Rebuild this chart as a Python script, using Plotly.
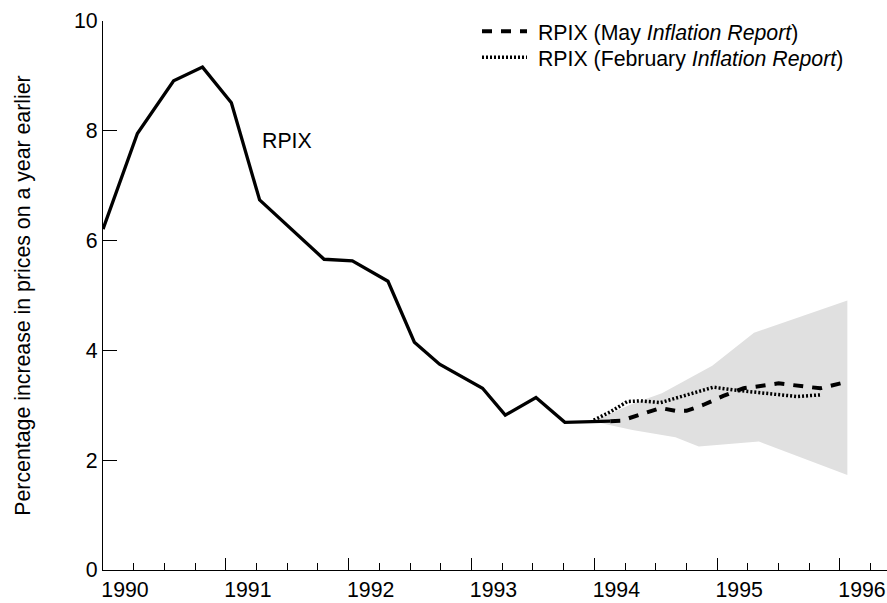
import plotly.graph_objects as go

# ---- data ----
rpix_x = [1990.00, 1990.28, 1990.575, 1990.81, 1991.045, 1991.275, 1991.80, 1992.03,
          1992.32, 1992.535, 1992.74, 1993.09, 1993.275, 1993.525, 1993.76, 1994.13]
rpix_y = [6.21, 7.95, 8.91, 9.16, 8.51, 6.74, 5.66, 5.63,
          5.26, 4.15, 3.75, 3.31, 2.82, 3.14, 2.69, 2.71]

may_x = [1994.13, 1994.22, 1994.54, 1994.66, 1994.75, 1994.89, 1995.05, 1995.215,
         1995.38, 1995.50, 1995.72, 1995.84, 1996.06]
may_y = [2.71, 2.72, 2.95, 2.90, 2.90, 3.01, 3.17, 3.31,
         3.36, 3.40, 3.34, 3.31, 3.43]

feb_x = [1993.995, 1994.13, 1994.27, 1994.375, 1994.54, 1994.755, 1994.97, 1995.13,
         1995.35, 1995.65, 1995.84]
feb_y = [2.73, 2.88, 3.07, 3.08, 3.05, 3.19, 3.33, 3.28,
         3.23, 3.16, 3.19]

fan_upper_x = [1994.0, 1994.30, 1994.55, 1994.96, 1995.30, 1996.06]
fan_upper_y = [2.72, 3.02, 3.22, 3.72, 4.32, 4.91]
fan_lower_x = [1994.0, 1994.31, 1994.66, 1994.85, 1995.34, 1996.06]
fan_lower_y = [2.70, 2.55, 2.42, 2.25, 2.34, 1.73]

year_ticks = [1990, 1991, 1992, 1993, 1994, 1995, 1996]
year_labels = ["1990", "1991", "1992", "1993", "1994", "1995", "1996"]
y_ticks = [0, 2, 4, 6, 8, 10]

FONT = "Liberation Sans, Arial, sans-serif"
FS = 21.3

fig = go.Figure()

# projection fan
fig.add_trace(go.Scatter(
    x=fan_upper_x + fan_lower_x[::-1],
    y=fan_upper_y + fan_lower_y[::-1],
    fill="toself", fillcolor="#e0e0e0", mode="lines",
    line=dict(width=0, color="#e0e0e0"),
    showlegend=False, hoverinfo="skip"))

fig.add_trace(go.Scatter(
    x=rpix_x, y=rpix_y, mode="lines", name="RPIX",
    line=dict(color="black", width=3.3), showlegend=False))

fig.add_trace(go.Scatter(
    x=may_x, y=may_y, mode="lines", name="&nbsp;RPIX (May <i>Inflation Report</i>)",
    line=dict(color="black", width=4, dash="10px,9px"), legend="legend"))

fig.add_trace(go.Scatter(
    x=feb_x, y=feb_y, mode="lines", name="&nbsp;RPIX (February <i>Inflation Report</i>)",
    line=dict(color="black", width=3.5, dash="2px,2px"), legend="legend2"))

fig.add_annotation(x=1991.496, y=7.82, text="RPIX", showarrow=False,
                   font=dict(family=FONT, size=FS, color="black"),
                   xanchor="center", yanchor="middle")

x_end = 1990 + (887 - 103) / 122.83
leg_x = (477 - 103) / 784

legend_common = dict(x=leg_x, xanchor="left", yanchor="top",
                     bgcolor="rgba(0,0,0,0)", borderwidth=0,
                     itemwidth=45, font=dict(family=FONT, size=FS))

fig.update_layout(
    width=887, height=603,
    margin=dict(l=103, r=0, t=21, b=33, autoexpand=False),
    paper_bgcolor="white", plot_bgcolor="white",
    font=dict(family=FONT, size=FS, color="black"),
    showlegend=True,
    legend=dict(y=(570 - 11) / 549, **legend_common),
    legend2=dict(y=(570 - 37) / 549, **legend_common),
    xaxis=dict(range=[1990, x_end], showgrid=False, zeroline=False, automargin=False,
               showline=True, linecolor="black", linewidth=1.2,
               tickmode="array", tickvals=year_ticks, ticktext=year_labels,
               ticks="inside", ticklen=12, tickwidth=1.2, tickcolor="black",
               ticklabelshift=22,
               minor=dict(dtick=0.25, tick0=1990, ticks="inside", ticklen=7,
                          tickwidth=1.2, tickcolor="black", showgrid=False),
               tickfont=dict(family=FONT, size=FS)),
    yaxis=dict(range=[0, 10], showgrid=False, zeroline=False, automargin=False,
               showline=True, linecolor="black", linewidth=1.2,
               tickmode="array", tickvals=y_ticks,
               ticks="inside", ticklen=14, tickwidth=1.2, tickcolor="black",
               tickfont=dict(family=FONT, size=FS),
               title=dict(text="Percentage increase in prices on a year earlier",
                          font=dict(family=FONT, size=FS), standoff=37)),
)

fig.write_html("out.html", config={"displayModeBar": False},
               post_script="document.body.style.margin='0';document.body.style.overflow='hidden';")
